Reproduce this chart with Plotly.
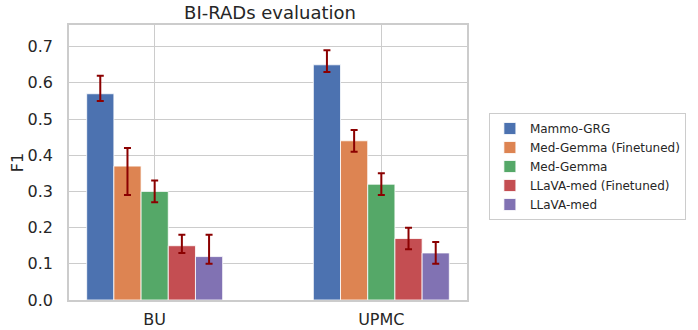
import plotly.graph_objects as go

sites = ['BU', 'UPMC']
models = ['Mammo-GRG', 'Med-Gemma (Finetuned)', 'Med-Gemma', 'LLaVA-med (Finetuned)', 'LLaVA-med']
colors = ['#4C72B0', '#DD8452', '#55A868', '#C44E52', '#8172B3']

# F1 per model, [BU, UPMC]
f1 = {
    'Mammo-GRG': [0.57, 0.65],
    'Med-Gemma (Finetuned)': [0.37, 0.44],
    'Med-Gemma': [0.30, 0.32],
    'LLaVA-med (Finetuned)': [0.15, 0.17],
    'LLaVA-med': [0.12, 0.13],
}
err_plus = {
    'Mammo-GRG': [0.05, 0.04],
    'Med-Gemma (Finetuned)': [0.05, 0.03],
    'Med-Gemma': [0.03, 0.03],
    'LLaVA-med (Finetuned)': [0.03, 0.03],
    'LLaVA-med': [0.06, 0.03],
}
err_minus = {
    'Mammo-GRG': [0.02, 0.02],
    'Med-Gemma (Finetuned)': [0.08, 0.03],
    'Med-Gemma': [0.03, 0.03],
    'LLaVA-med (Finetuned)': [0.02, 0.03],
    'LLaVA-med': [0.02, 0.03],
}

font = 'DejaVu Sans'
txt = '#262626'
grid = '#cccccc'

fig = go.Figure()
for m, c in zip(models, colors):
    fig.add_trace(go.Bar(
        x=sites,
        y=f1[m],
        name=m,
        marker=dict(color=c, line=dict(color='white', width=0.8)),
        error_y=dict(type='data', symmetric=False, array=err_plus[m], arrayminus=err_minus[m],
                     color='#8B0000', thickness=2, width=3.5),
    ))

fig.update_layout(
    width=698, height=330,
    margin=dict(l=69, r=227, t=25, b=30),
    paper_bgcolor='white', plot_bgcolor='white',
    barmode='group', bargap=0.4, bargroupgap=0,
    font=dict(family=font, color=txt, size=16),
    title=dict(text='BI-RADs evaluation', x=(69 + 471) / 2 / 698, xanchor='center',
               y=1 - 13 / 330, yanchor='middle', font=dict(size=18, color=txt)),
    legend=dict(x=1.055, xanchor='left', y=0.68, yanchor='top',
                bordercolor=grid, borderwidth=1, font=dict(size=12, color=txt),
                bgcolor='white', tracegroupgap=0),
)
fig.update_xaxes(
    range=[-0.378, 1.378], showgrid=True, gridcolor=grid, gridwidth=1.2,
    showline=True, linecolor=grid, linewidth=1.5, mirror=True, automargin=False,
    ticks='', ticklabelstandoff=4, tickfont=dict(size=16),
)
fig.update_yaxes(
    range=[0, 0.76], dtick=0.1, tickformat='.1f', showgrid=True, gridcolor=grid, gridwidth=1.2,
    zeroline=False, showline=True, linecolor=grid, linewidth=1.5, mirror=True, automargin=False,
    ticks='', ticklabelstandoff=11, tickfont=dict(size=16),
    title=dict(text='F1', font=dict(size=16), standoff=0),
)

# drop the browser's default body margin so the figure sits at the page corner
fig.write_html('out.html', config={'displayModeBar': False},
               post_script="document.body.style.margin='0';document.body.style.overflow='hidden';")
